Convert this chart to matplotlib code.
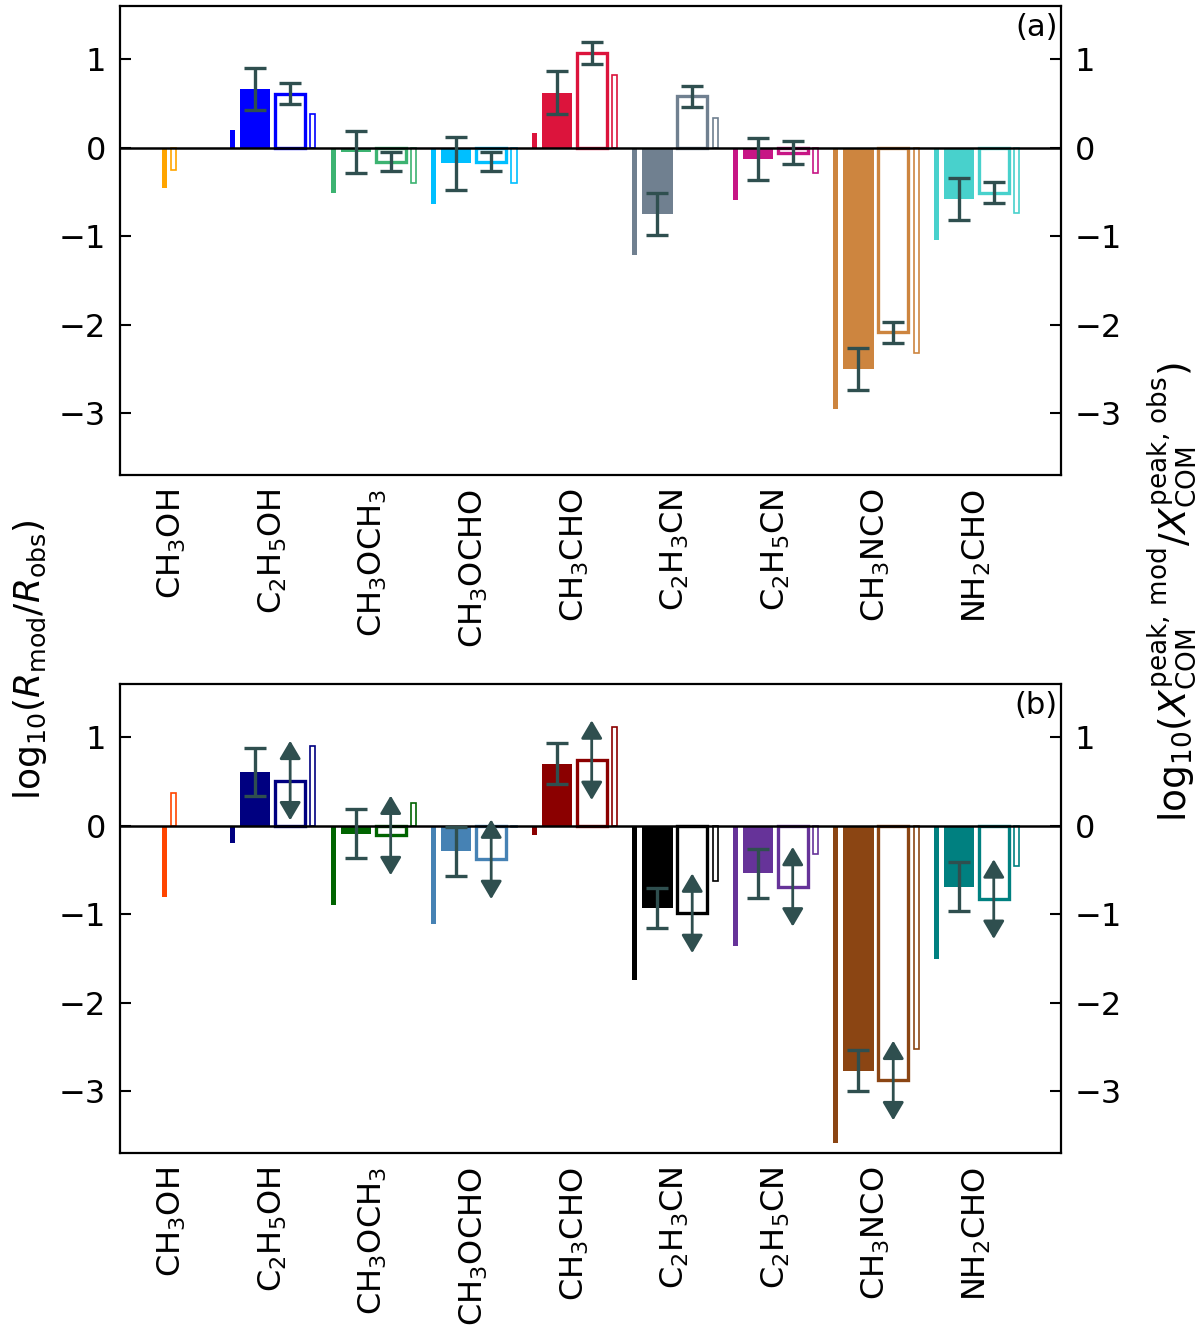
import numpy as np
import matplotlib
matplotlib.use("Agg")
import matplotlib.pyplot as plt

nan = np.nan

molecules = ["CH$_3$OH", "C$_2$H$_5$OH", "CH$_3$OCH$_3$", "CH$_3$OCHO", "CH$_3$CHO",
             "C$_2$H$_3$CN", "C$_2$H$_5$CN", "CH$_3$NCO", "NH$_2$CHO"]

# panel (a)
colors_a = ["orange", "blue", "mediumseagreen", "deepskyblue", "crimson",
            "slategray", "mediumvioletred", "peru", "mediumturquoise"]
thin_fill_a = [-0.46, 0.20, -0.51, -0.64, 0.16, -1.21, -0.59, -2.96, -1.04]
wide_fill_a = [nan, 0.66, -0.05, -0.18, 0.62, -0.75, -0.13, -2.50, -0.58]
wide_fill_err_a = [nan, 0.235, 0.235, 0.30, 0.24, 0.24, 0.24, 0.24, 0.235]
wide_open_a = [nan, 0.61, -0.16, -0.16, 1.07, 0.58, -0.06, -2.09, -0.51]
wide_open_err_a = [nan, 0.12, 0.11, 0.11, 0.12, 0.12, 0.13, 0.12, 0.12]
thin_open_a = [-0.25, 0.38, -0.40, -0.40, 0.82, 0.33, -0.29, -2.32, -0.74]

# panel (b)
colors_b = ["orangered", "navy", "darkgreen", "steelblue", "darkred",
            "black", "rebeccapurple", "saddlebrown", "teal"]
thin_fill_b = [-0.81, -0.20, -0.90, -1.11, -0.11, -1.74, -1.36, -3.59, -1.51]
wide_fill_b = [nan, 0.61, -0.09, -0.29, 0.70, -0.93, -0.54, -2.77, -0.69]
wide_fill_err_b = [nan, 0.27, 0.275, 0.28, 0.23, 0.225, 0.275, 0.23, 0.28]
wide_open_b = [nan, 0.51, -0.11, -0.38, 0.74, -0.99, -0.69, -2.88, -0.83]
arrow_half_b = 0.45
thin_open_b = [0.37, 0.90, 0.26, -0.02, 1.12, -0.63, -0.32, -2.52, -0.46]

ERRC = "darkslategray"
plt.rcParams["font.family"] = ["DejaVu Sans"]


def draw_panel(ax, colors, thin_fill, wide_fill, wide_fill_err, wide_open,
               thin_open, wide_open_err=None, arrows=None, tag=""):
    idx = np.arange(len(molecules))
    # CH3OH has only the two thin bars, placed near its centre
    off_tf = np.where(idx == 0, -0.08, -0.40)
    off_to = np.where(idx == 0, 0.01, 0.40)

    ax.bar(idx + off_tf, thin_fill, width=0.05, color=colors, zorder=2)
    ax.bar(idx + off_to, thin_open, width=0.05, fill=False, edgecolor=colors,
           linewidth=1.2, zorder=2)
    ax.bar(idx - 0.173, wide_fill, width=0.30, color=colors, zorder=2)
    ax.bar(idx + 0.173, wide_open, width=0.30, fill=False, edgecolor=colors,
           linewidth=2.4, zorder=2)

    ax.errorbar(idx - 0.173, wide_fill, yerr=wide_fill_err, fmt="none",
                ecolor=ERRC, elinewidth=2.4, capsize=8, capthick=2.4, zorder=4)
    if wide_open_err is not None:
        ax.errorbar(idx + 0.173, wide_open, yerr=wide_open_err, fmt="none",
                    ecolor=ERRC, elinewidth=2.4, capsize=8, capthick=2.4, zorder=4)
    if arrows is not None:
        for i, v in zip(idx, wide_open):
            if np.isnan(v):
                continue
            ax.annotate("", xy=(i + 0.173, v + arrows), xytext=(i + 0.173, v - arrows),
                        arrowprops=dict(arrowstyle="<|-|>,head_length=1.1,head_width=0.65",
                                        color=ERRC, lw=2, shrinkA=0, shrinkB=0,
                                        mutation_scale=10),
                        zorder=4)

    ax.axhline(0, color="black", lw=1.8, zorder=3)
    ax.set_xlim(-0.52, 8.84)
    ax.set_ylim(-3.7, 1.6)
    ax.set_yticks([1, 0, -1, -2, -3])
    ax.set_xticks(idx)
    ax.set_xticklabels(molecules, rotation=90, fontsize=23)
    ax.tick_params(axis="x", length=0, pad=10)
    ax.tick_params(axis="y", direction="in", length=8, width=1.5, labelsize=23,
                   right=True, labelright=True, pad=10)
    for s in ax.spines.values():
        s.set_linewidth(1.6)
    ax.text(0.997, 0.985, tag, transform=ax.transAxes, ha="right", va="top",
            fontsize=22)


fig = plt.figure(figsize=(12, 13.33), dpi=100)
ax_a = fig.add_axes([0.1, 0.6437, 0.784, 0.3518])
ax_b = fig.add_axes([0.1, 0.135, 0.784, 0.3518])

draw_panel(ax_a, colors_a, thin_fill_a, wide_fill_a, wide_fill_err_a,
           wide_open_a, thin_open_a, wide_open_err=wide_open_err_a, tag="(a)")
draw_panel(ax_b, colors_b, thin_fill_b, wide_fill_b, wide_fill_err_b,
           wide_open_b, thin_open_b, arrows=arrow_half_b, tag="(b)")

fig.text(0.025, 0.505, r"log$_{10}$($R_{\rm mod}/R_{\rm obs}$)", rotation=90,
         ha="center", va="center", fontsize=26)
fig.text(0.977, 0.556,
         r"log$_{10}$($X^{\rm peak,\,mod}_{\rm COM}/X^{\rm peak,\,obs}_{\rm COM}$)",
         rotation=90, ha="center", va="center", fontsize=27)

fig.savefig("out.png", dpi=100)
